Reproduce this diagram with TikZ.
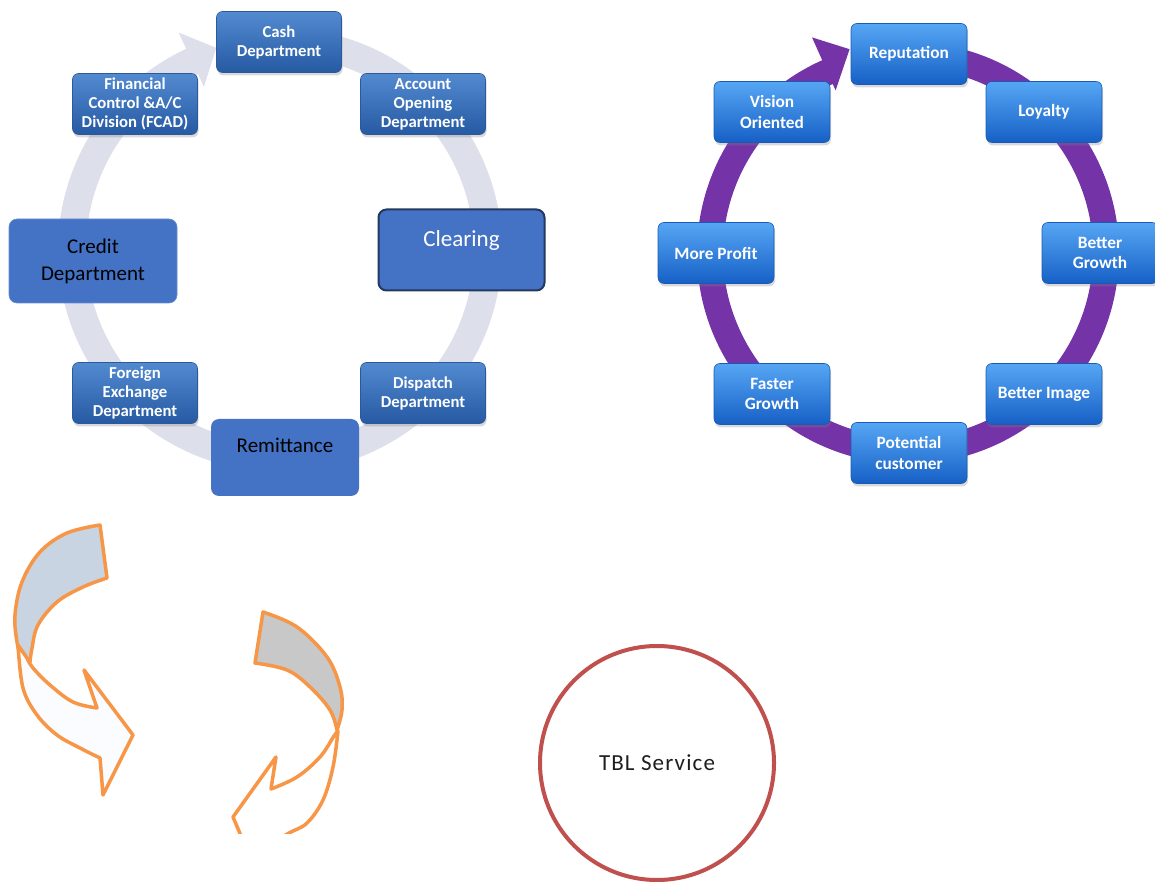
\documentclass[tikz,border=0pt]{standalone}
\usepackage{fontspec}
\setmainfont{Carlito}
\usetikzlibrary{calc,shadows}

\definecolor{ringgrey}{RGB}{221,224,234}
\definecolor{ringpurple}{RGB}{116,52,168}
\definecolor{lbTop}{RGB}{82,138,208}
\definecolor{lbBot}{RGB}{38,90,163}
\definecolor{lbEdge}{RGB}{45,88,155}
\definecolor{rbTop}{RGB}{86,166,244}
\definecolor{rbBot}{RGB}{22,96,198}
\definecolor{rbEdge}{RGB}{25,90,180}
\definecolor{bigblue}{RGB}{68,114,196}
\definecolor{clearedge}{RGB}{36,56,96}
\definecolor{arroworange}{RGB}{247,150,70}
\definecolor{backfill}{RGB}{200,212,226}
\definecolor{frontfill}{RGB}{250,252,255}
\definecolor{crescentgrey}{RGB}{200,200,200}
\definecolor{tblred}{RGB}{192,80,77}

\begin{document}
\begin{tikzpicture}[x=1pt,y=1pt,
  lbox/.style={rounded corners=6pt, minimum width=125pt, minimum height=61pt,
    inner sep=2pt, top color=lbTop, bottom color=lbBot, draw=lbEdge, line width=0.6pt,
    text=white, align=center, font=\bfseries\fontsize{16.7}{19}\selectfont,
    drop shadow={shadow xshift=1pt, shadow yshift=-3pt, opacity=0.3}},
  rbox/.style={rounded corners=6pt, minimum width=116pt, minimum height=61pt,
    inner sep=2pt, top color=rbTop, bottom color=rbBot, draw=rbEdge, line width=0.6pt,
    text=white, align=center, font=\bfseries\fontsize{17.3}{20.5}\selectfont,
    drop shadow={shadow xshift=1pt, shadow yshift=-3pt, opacity=0.3}},
  bigbox/.style={rounded corners=8pt, fill=bigblue, inner sep=2pt, align=center,
    font=\fontsize{21}{27}\selectfont},
  orangeline/.style={draw=arroworange, line width=3.5pt, line join=round},
]
\useasboundingbox (0,0) rectangle (1155,881);
\clip (0,0) rectangle (1155,881);

% ---------- departments cycle ----------
\coordinate (lc) at (280,631);
\fill[ringgrey] ($(lc)+(80:222)$) arc[start angle=80, end angle=-245, radius=222]
  -- ($(lc)+(115:240)$) -- ($(lc)+(107.5:212)$) -- ($(lc)+(115:180)$)
  -- ($(lc)+(115:194)$) arc[start angle=115, end angle=440, radius=194] -- cycle;

\node[lbox] (cash)  at (279,839) {Cash\\Department};
\node[lbox] (acct)  at (423,777) {Account\\Opening\\Department};
\node[lbox] (fcad)  at (135,777) {Financial\\Control \&A/C\\Division (FCAD)};
\node[lbox] (forex) at (135,488) {Foreign\\Exchange\\Department};
\node[lbox] (disp)  at (423,488) {Dispatch\\Department};

\node[bigbox, minimum width=168pt, minimum height=84pt, draw={rgb,255:red,100;green,140;blue,210}, line width=0.6pt]
  (credit) at (93,620) {Credit\\Department};
\node[bigbox, minimum width=166pt, minimum height=81pt, draw=clearedge, line width=2pt,
  text=white, font=\fontsize{23}{23}\selectfont] (clear) at (461.5,631) {Clearing\\\mbox{}};
\node[bigbox, minimum width=148pt, minimum height=77pt] (remit) at (285,423.5) {Remittance\\[-2pt]\mbox{}};

% ---------- reputation cycle ----------
\coordinate (rc) at (908,628);
\fill[ringpurple] ($(rc)+(80:211)$) arc[start angle=80, end angle=-246, radius=211]
  -- ($(rc)+(114:236)$) -- ($(rc)+(106:212)$) -- ($(rc)+(114:178)$)
  -- ($(rc)+(114:185)$) arc[start angle=114, end angle=440, radius=185] -- cycle;

\node[rbox] (rep) at (909,827)  {Reputation};
\node[rbox] (loy) at (1044,769) {Loyalty};
\node[rbox] (bgr) at (1100,628) {Better\\Growth};
\node[rbox] (bim) at (1044,487) {Better Image};
\node[rbox] (pot) at (909,428)  {Potential\\customer};
\node[rbox] (fgr) at (772,487)  {Faster\\Growth};
\node[rbox] (mpr) at (716,628)  {More Profit};
\node[rbox] (vis) at (772,769)  {Vision\\Oriented};

% ---------- curved orange arrows ----------
% left arrow: back band, then front band with head
\draw[orangeline, fill=backfill]
  plot[smooth, tension=0.6] coordinates {(100,356) (67,348) (40,329) (22,299) (15,266) (17,239) (22,219)}
  -- plot[smooth, tension=0.6] coordinates {(30,219) (32,233) (38,256) (57,279) (83,294) (107,303)}
  -- cycle;
\draw[orangeline, fill=frontfill]
  plot[smooth, tension=0.6] coordinates {(18,236) (23,193) (37,166) (57,146) (80,133) (100,123)}
  -- (103,86) -- (133,146) -- (84,211) -- (97,173)
  -- plot[smooth, tension=0.6] coordinates {(97,173) (73,179) (50,196) (33,213) (27,223)}
  -- cycle;

% right arrow: grey crescent, then front band cut at the bottom
\draw[orangeline, fill=crescentgrey]
  plot[smooth, tension=0.6] coordinates {(263,269) (297,254) (327,224) (340,194) (342,171) (337,151)}
  -- plot[smooth, tension=0.6] coordinates {(337,151) (330,171) (310,194) (287,211) (255,218)}
  -- cycle;
\begin{scope}
  \clip (0,48) rectangle (400,300);
  \draw[orangeline, fill=white]
    plot[smooth, tension=0.6] coordinates {(338,150) (334,145) (320,124) (297,104) (271,92)}
    -- (276,124) -- (233,64) -- (250,24)
    -- plot[smooth, tension=0.6] coordinates {(270,36) (289,48) (307,58) (323,81) (333,114) (338,150)}
    -- cycle;
\end{scope}

% ---------- service circle ----------
\node[circle, draw=tblred, line width=4pt, minimum size=234pt, inner sep=0pt,
  text={rgb,255:red,30;green,30;blue,30}, font=\addfontfeature{LetterSpace=5}\fontsize{23}{27}\selectfont]
  (tbl) at (657,118) {TBL Service};
\end{tikzpicture}
\end{document}
